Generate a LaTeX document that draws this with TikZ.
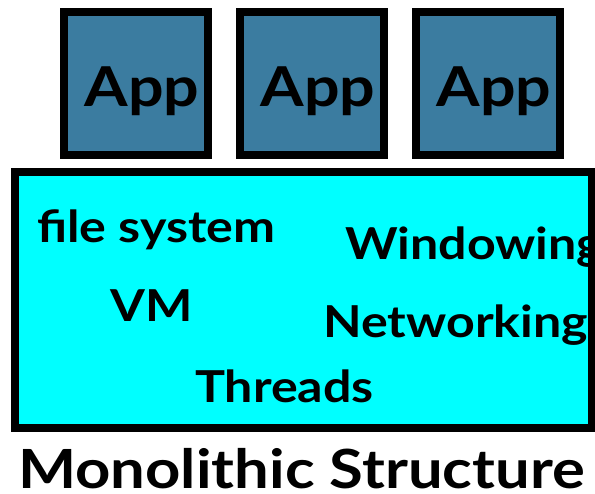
\documentclass[tikz,border=0pt]{standalone}
\usepackage{fontspec}
\setmainfont{Lato}[FakeStretch=1.14]
\usepackage{tikz}
\usepackage{xcolor}

\definecolor{appblue}{RGB}{59,124,160}
\definecolor{kernelcyan}{RGB}{0,255,255}

\begin{document}
\begin{tikzpicture}[x=1pt,y=1pt]
  \tikzset{appbox/.style = {shape=rectangle,draw=black,line width=7.5pt,fill=appblue,minimum width=144pt,minimum height=143pt,inner sep=0pt}}
  \tikzset{kernel/.style = {shape=rectangle,fill=kernelcyan,minimum width=577pt,minimum height=256pt,inner sep=0pt}}
  \tikzset{word/.style = {anchor=base west,inner sep=0pt,font=\fontsize{44}{44}\selectfont\bfseries}}

  \useasboundingbox (0,0) rectangle (595,494);

	% the three applications
	\foreach \i/\x in {1/136,2/312,3/488}{
		\node[appbox] (app\i) at (\x,410.5) {};
		\node[word,anchor=base,font=\fontsize{55}{55}\selectfont\bfseries] (applabel\i) at ([xshift=6pt,yshift=-23.5pt]app\i.center) {App};
	}

	% the kernel
	\node[kernel] (kernel) at (303.5,194) {};
	\begin{scope}
		\clip (kernel.south west) rectangle (kernel.north east);
		\node[word] (fs) at (37,251) {file system};
		\node[word] (win) at (345,234) {Windowing};
		\node[word] (vm) at (110,172) {VM};
		\node[word] (net) at (323,156) {Networking};
		\node[word] (thr) at (195,91) {Threads};
	\end{scope}
	\draw[line width=7.5pt] (kernel.south west) rectangle (kernel.north east);

	\node[word,font=\fontsize{54}{54}\selectfont\bfseries] (title) at (18,5) {Monolithic Structure};

\end{tikzpicture}
\end{document}
